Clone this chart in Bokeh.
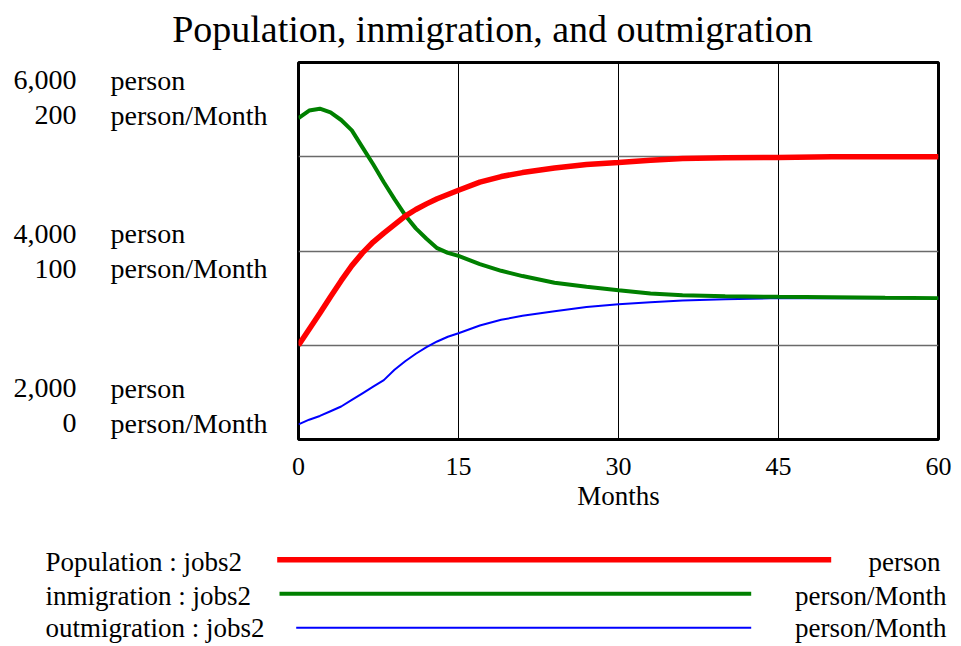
from bokeh.plotting import figure
from bokeh.models import Range1d, FixedTicker, Label, Arrow
from bokeh.layouts import column, row
from bokeh.embed import file_html
from bokeh.resources import INLINE

# ---------------- data ----------------
months = [0, 1, 2, 3, 4, 5, 6, 7, 8, 9, 10, 11, 12, 13, 14, 15,
          17, 19, 21, 24, 27, 30, 33, 36, 40, 45, 50, 55, 60]
population = [3000, 3170, 3340, 3515, 3685, 3845, 3980, 4095, 4190, 4280,
              4370, 4440, 4500, 4555, 4600, 4645, 4730, 4790, 4832, 4880,
              4918, 4940, 4963, 4982, 4990, 4992, 5000, 5000, 5000]
inmigration = [170.5, 174.5, 175.5, 173.5, 169.5, 164, 155, 146, 136.5, 127.5,
               119, 112, 106.5, 101.5, 99, 97.4, 93, 89.5, 86.7, 83.2,
               81, 79.2, 77.5, 76.5, 76, 75.7, 75.5, 75.2, 75]
outmigration = [8, 10.5, 12.5, 15, 17.5, 21, 24.5, 28, 31.5, 37,
                41.5, 45.5, 49, 52, 54.5, 56.4, 60.5, 63.5, 65.6, 68,
                70.3, 71.8, 72.8, 73.8, 74.4, 75, 75, 75, 75]

x_ticks = [0, 15, 30, 45, 60]
x_grid = [15, 30, 45]
pop_ticks = [6000, 4000, 2000]
pop_tick_labels = ["6,000", "4,000", "2,000"]
rate_tick_labels = ["200", "100", "0"]
pop_grid = [3000, 4000, 5000]
pop_unit = "person"
rate_unit = "person/Month"
series_names = ["Population : jobs2", "inmigration : jobs2", "outmigration : jobs2"]
series_units = ["person", "person/Month", "person/Month"]
series_colors = ["#ff0000", "#008000", "#0000ff"]
series_widths = [5.5, 4, 2]
title_text = "Population, inmigration, and outmigration"
x_label = "Months"

FONT = "Liberation Serif"
y_range = Range1d(2000, 6000)


def blank(width, height, **kw):
    f = figure(width=width, height=height, output_backend="svg",
               toolbar_location=None, x_axis_location=None, y_axis_location=None,
               min_border_left=0, min_border_right=0,
               min_border_top=kw.pop("top", 0), min_border_bottom=kw.pop("bottom", 0),
               x_range=Range1d(0, 1), y_range=kw.pop("y_range", Range1d(0, 1)))
    f.title.visible = False
    f.outline_line_color = None
    f.grid.visible = False
    f.background_fill_color = "white"
    f.border_fill_color = "white"
    return f


def label(fig, x, y, text, size, align, y_units="screen", y_offset=0):
    fig.add_layout(Label(x=x, y=y, x_units="screen", y_units=y_units,
                         y_offset=y_offset, text=text, text_align=align,
                         text_baseline="middle", text_font=FONT,
                         text_font_size=size, text_color="black"))


# ---------------- title ----------------
title_fig = blank(955, 55)
label(title_fig, 492, 27, title_text, "38px", "center")

# ---------------- main plot ----------------
p = figure(width=675, height=465, x_range=Range1d(0, 60), y_range=y_range,
           output_backend="svg", toolbar_location=None,
           min_border_left=18, min_border_right=17,
           min_border_top=7, min_border_bottom=81)
p.title.visible = False
p.extra_y_ranges = {"rate": Range1d(0, 200)}
p.background_fill_color = "white"
p.border_fill_color = "white"
p.outline_line_color = "black"
p.outline_line_width = 3
p.yaxis.visible = False

xa = p.xaxis[0]
xa.ticker = FixedTicker(ticks=x_ticks)
xa.axis_label = x_label
xa.axis_line_color = None
xa.major_tick_line_color = None
xa.minor_tick_line_color = None
xa.major_label_standoff = 12
xa.axis_label_standoff = 3
xa.major_label_text_font = FONT
xa.major_label_text_font_size = "26px"
xa.major_label_text_color = "black"
xa.axis_label_text_font = FONT
xa.axis_label_text_font_size = "27px"
xa.axis_label_text_font_style = "normal"
xa.axis_label_text_color = "black"

p.xgrid.ticker = FixedTicker(ticks=x_grid)
p.xgrid.grid_line_color = "black"
p.xgrid.grid_line_width = 1
p.ygrid.ticker = FixedTicker(ticks=pop_grid)
p.ygrid.grid_line_color = "#6a6a6a"
p.ygrid.grid_line_width = 1.5

p.line(months, outmigration, y_range_name="rate",
       line_color=series_colors[2], line_width=series_widths[2])
p.line(months, inmigration, y_range_name="rate",
       line_color=series_colors[1], line_width=series_widths[1])
p.line(months, population,
       line_color=series_colors[0], line_width=series_widths[0])

# ---------------- left dual-scale labels ----------------
left_fig = blank(280, 465, top=7, bottom=81, y_range=y_range)
shifts = [-35, 0, 34]
for pv, pl, rl, sh in zip(pop_ticks, pop_tick_labels, rate_tick_labels, shifts):
    label(left_fig, 76, pv, pl, "28px", "right", "data", 17.5 + sh)
    label(left_fig, 76, pv, rl, "28px", "right", "data", -17.5 + sh)
    label(left_fig, 110, pv, pop_unit, "28px", "left", "data", 17.5 + sh)
    label(left_fig, 110, pv, rate_unit, "28px", "left", "data", -17.5 + sh)

# ---------------- legend ----------------
legend_fig = blank(955, 124)
row_y = [82.3, 49, 16.7]
line_y = [84.7, 50.7, 16.7]
line_x0 = [276.7, 279, 295.7]
line_x1 = [830.7, 750.7, 750.7]
unit_x = [940, 946, 946]
for i in range(3):
    label(legend_fig, 45, row_y[i], series_names[i], "27px", "left")
    label(legend_fig, unit_x[i], row_y[i], series_units[i], "27px", "right")
    legend_fig.add_layout(Arrow(end=None, x_start=line_x0[i], y_start=line_y[i],
                                x_end=line_x1[i], y_end=line_y[i],
                                start_units="screen", end_units="screen",
                                line_color=series_colors[i],
                                line_width=series_widths[i]))

layout = column(title_fig, row(left_fig, p), legend_fig)
open("out.html", "w").write(file_html(layout, INLINE))
